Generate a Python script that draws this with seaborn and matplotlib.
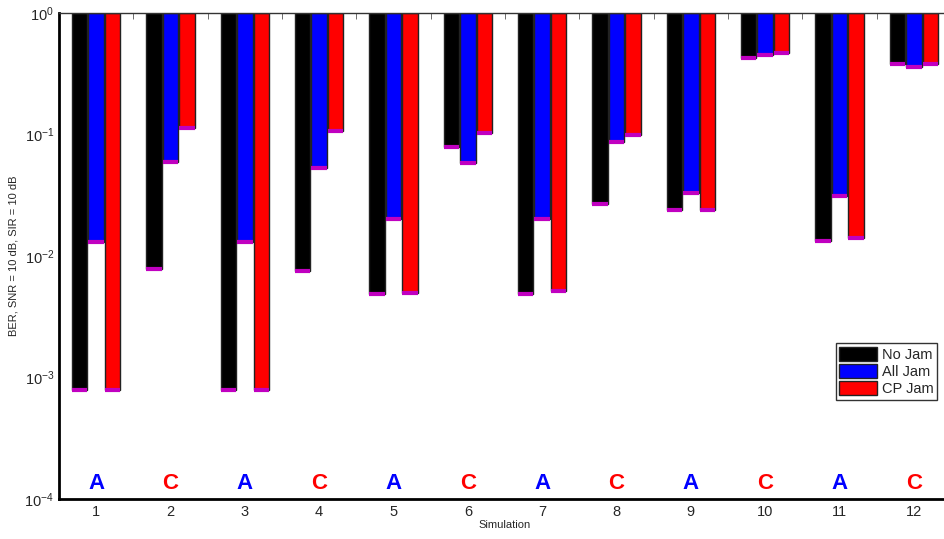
import numpy as np
import matplotlib
matplotlib.use("Agg")
import matplotlib.pyplot as plt
import seaborn as sns

# データ (BER)
simulations = [1, 2, 3, 4, 5, 6, 7, 8, 9, 10, 11, 12]
no_jam = [7.9e-4, 0.0078, 7.9e-4, 0.0075, 0.0049, 0.079, 0.0049, 0.027, 0.024, 0.43, 0.0133, 0.38]
all_jam = [0.013, 0.059, 0.013, 0.053, 0.020, 0.058, 0.020, 0.087, 0.033, 0.45, 0.031, 0.36]
cp_jam = [7.9e-4, 0.113, 7.9e-4, 0.107, 0.0050, 0.103, 0.0052, 0.099, 0.024, 0.47, 0.0141, 0.38]
series_names = ["No Jam", "All Jam", "CP Jam"]
series_colors = ["#000000", "#0000ff", "#ff0000"]
best = ["A", "C", "A", "C", "A", "C", "A", "C", "A", "C", "A", "C"]
best_colors = {"A": "#0000ff", "C": "#ff0000"}

sns.set_style("white")
plt.rcParams["font.family"] = ["Liberation Sans", "DejaVu Sans"]
plt.rcParams["mathtext.fontset"] = "custom"
plt.rcParams["mathtext.rm"] = "Liberation Sans"

fig = plt.figure(figsize=(9.45, 5.39), dpi=100)
ax = fig.add_axes([59 / 945, 40 / 539, (951 - 59) / 945, 486 / 539])

x = np.array(simulations, dtype=float)
step = 0.222
width = 0.21
top = 1.0
for i, (vals, name, col) in enumerate(zip([no_jam, all_jam, cp_jam], series_names, series_colors)):
    xs = x + (i - 1) * step
    vals = np.array(vals)
    ax.bar(xs, top - vals, bottom=vals, width=width, color=col,
           edgecolor="#222222", linewidth=1, label=name, zorder=2)
    # 誤差バー (マゼンタ)
    ax.hlines(vals, xs - width / 2, xs + width / 2, color="#c000c0", linewidth=3, zorder=3)

for xi, b in zip(x, best):
    ax.text(xi, 1.1e-4, b, color=best_colors[b], fontsize=16, fontweight="bold",
            ha="center", va="bottom", zorder=4)

ax.set_yscale("log")
ax.set_ylim(1e-4, 1)
ax.set_xlim(0.5, 12.5)
ax.set_xticks(simulations)
ax.set_xticks(np.arange(1.5, 12.5, 1), minor=True)
ax.set_yticks([1e-4, 1e-3, 1e-2, 1e-1, 1])
ax.yaxis.set_minor_locator(matplotlib.ticker.NullLocator())
ax.tick_params(axis="both", which="both", direction="in", top=True, labelsize=10.5, length=4,
               color="#555555")
ax.tick_params(axis="x", pad=4)

ax.set_xlabel("Simulation", fontsize=8, labelpad=1)
ax.set_ylabel("BER, SNR = 10 dB, SIR = 10 dB", fontsize=8, labelpad=4)

for side in ["left", "bottom"]:
    ax.spines[side].set_linewidth(2)
    ax.spines[side].set_color("black")
ax.spines["top"].set_linewidth(1)
ax.spines["top"].set_color("#333333")
ax.spines["right"].set_visible(False)

leg = ax.legend(loc="upper right", bbox_to_anchor=(937 / 945, 1 - 343 / 539),
                bbox_transform=fig.transFigure, fontsize=10.5, frameon=True, fancybox=False,
                handlelength=2.6, handleheight=1.1, handletextpad=0.3, borderpad=0.25,
                labelspacing=0.15, borderaxespad=0)
leg.get_frame().set_edgecolor("black")
leg.get_frame().set_linewidth(1)

fig.savefig("out.png", dpi=100)
